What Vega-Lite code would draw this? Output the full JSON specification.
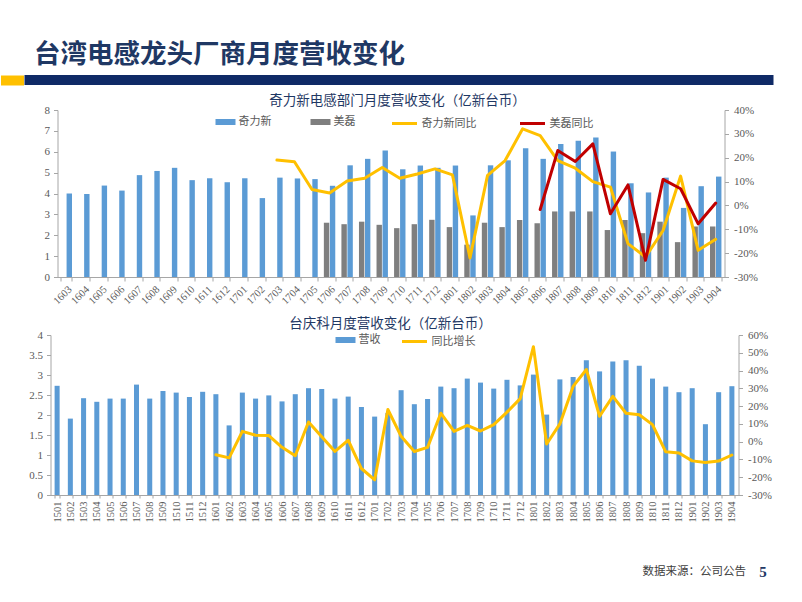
{
  "$schema": "https://vega.github.io/schema/vega-lite/v6.json",
  "background": "white",
  "padding": {"left": 11.5, "top": 41, "right": 0, "bottom": 0},
  "title": {"text": "台湾电感龙头厂商月度营收变化", "anchor": "start", "frame": "bounds", "dx": 22, "fontSize": 26.5, "font": "Noto Sans CJK SC", "fontWeight": "bold", "color": "#1F3864", "baseline": "bottom", "offset": -20},
  "spacing": 25,
  "bounds": "flush",
  "resolve": {"scale": {"fill": "independent", "stroke": "independent"}, "legend": {"fill": "independent", "stroke": "independent"}},
  "datasets": {
    "c1bars": [
      {"m": "1603", "s": "奇力新", "v": 4.00}, {"m": "1604", "s": "奇力新", "v": 3.98}, {"m": "1605", "s": "奇力新", "v": 4.38}, {"m": "1606", "s": "奇力新", "v": 4.14},
      {"m": "1607", "s": "奇力新", "v": 4.88}, {"m": "1608", "s": "奇力新", "v": 5.08}, {"m": "1609", "s": "奇力新", "v": 5.23}, {"m": "1610", "s": "奇力新", "v": 4.64},
      {"m": "1611", "s": "奇力新", "v": 4.73}, {"m": "1612", "s": "奇力新", "v": 4.54}, {"m": "1701", "s": "奇力新", "v": 4.73}, {"m": "1702", "s": "奇力新", "v": 3.78},
      {"m": "1703", "s": "奇力新", "v": 4.76}, {"m": "1704", "s": "奇力新", "v": 4.72}, {"m": "1705", "s": "奇力新", "v": 4.69}, {"m": "1706", "s": "奇力新", "v": 4.37},
      {"m": "1707", "s": "奇力新", "v": 5.35}, {"m": "1708", "s": "奇力新", "v": 5.66}, {"m": "1709", "s": "奇力新", "v": 6.06}, {"m": "1710", "s": "奇力新", "v": 5.16},
      {"m": "1711", "s": "奇力新", "v": 5.34}, {"m": "1712", "s": "奇力新", "v": 5.23}, {"m": "1801", "s": "奇力新", "v": 5.34}, {"m": "1802", "s": "奇力新", "v": 2.95},
      {"m": "1803", "s": "奇力新", "v": 5.35}, {"m": "1804", "s": "奇力新", "v": 5.59}, {"m": "1805", "s": "奇力新", "v": 6.17}, {"m": "1806", "s": "奇力新", "v": 5.66},
      {"m": "1807", "s": "奇力新", "v": 6.37}, {"m": "1808", "s": "奇力新", "v": 6.53}, {"m": "1809", "s": "奇力新", "v": 6.68}, {"m": "1810", "s": "奇力新", "v": 6.01},
      {"m": "1811", "s": "奇力新", "v": 4.49}, {"m": "1812", "s": "奇力新", "v": 4.05}, {"m": "1901", "s": "奇力新", "v": 4.76}, {"m": "1902", "s": "奇力新", "v": 3.31},
      {"m": "1903", "s": "奇力新", "v": 4.35}, {"m": "1904", "s": "奇力新", "v": 4.81},
      {"m": "1706", "s": "美磊", "v": 2.60}, {"m": "1707", "s": "美磊", "v": 2.53}, {"m": "1708", "s": "美磊", "v": 2.65}, {"m": "1709", "s": "美磊", "v": 2.50},
      {"m": "1710", "s": "美磊", "v": 2.34}, {"m": "1711", "s": "美磊", "v": 2.53}, {"m": "1712", "s": "美磊", "v": 2.74}, {"m": "1801", "s": "美磊", "v": 2.39},
      {"m": "1802", "s": "美磊", "v": 1.55}, {"m": "1803", "s": "美磊", "v": 2.60}, {"m": "1804", "s": "美磊", "v": 2.39}, {"m": "1805", "s": "美磊", "v": 2.73},
      {"m": "1806", "s": "美磊", "v": 2.57}, {"m": "1807", "s": "美磊", "v": 3.14}, {"m": "1808", "s": "美磊", "v": 3.14}, {"m": "1809", "s": "美磊", "v": 3.14},
      {"m": "1810", "s": "美磊", "v": 2.25}, {"m": "1811", "s": "美磊", "v": 2.73}, {"m": "1812", "s": "美磊", "v": 2.10}, {"m": "1901", "s": "美磊", "v": 2.65},
      {"m": "1902", "s": "美磊", "v": 1.67}, {"m": "1903", "s": "美磊", "v": 2.42}, {"m": "1904", "s": "美磊", "v": 2.42}
    ],
    "c1lines": [
      {"m": "1703", "s": "奇力新同比", "p": 0.19}, {"m": "1704", "s": "奇力新同比", "p": 0.183}, {"m": "1705", "s": "奇力新同比", "p": 0.067}, {"m": "1706", "s": "奇力新同比", "p": 0.052},
      {"m": "1707", "s": "奇力新同比", "p": 0.102}, {"m": "1708", "s": "奇力新同比", "p": 0.114}, {"m": "1709", "s": "奇力新同比", "p": 0.159}, {"m": "1710", "s": "奇力新同比", "p": 0.114},
      {"m": "1711", "s": "奇力新同比", "p": 0.132}, {"m": "1712", "s": "奇力新同比", "p": 0.153}, {"m": "1801", "s": "奇力新同比", "p": 0.128}, {"m": "1802", "s": "奇力新同比", "p": -0.22},
      {"m": "1803", "s": "奇力新同比", "p": 0.126}, {"m": "1804", "s": "奇力新同比", "p": 0.188}, {"m": "1805", "s": "奇力新同比", "p": 0.321}, {"m": "1806", "s": "奇力新同比", "p": 0.293},
      {"m": "1807", "s": "奇力新同比", "p": 0.188}, {"m": "1808", "s": "奇力新同比", "p": 0.156}, {"m": "1809", "s": "奇力新同比", "p": 0.10}, {"m": "1810", "s": "奇力新同比", "p": 0.077},
      {"m": "1811", "s": "奇力新同比", "p": -0.16}, {"m": "1812", "s": "奇力新同比", "p": -0.216}, {"m": "1901", "s": "奇力新同比", "p": -0.105}, {"m": "1902", "s": "奇力新同比", "p": 0.123},
      {"m": "1903", "s": "奇力新同比", "p": -0.188}, {"m": "1904", "s": "奇力新同比", "p": -0.142},
      {"m": "1806", "s": "美磊同比", "p": -0.017}, {"m": "1807", "s": "美磊同比", "p": 0.23}, {"m": "1808", "s": "美磊同比", "p": 0.184}, {"m": "1809", "s": "美磊同比", "p": 0.258},
      {"m": "1810", "s": "美磊同比", "p": -0.035}, {"m": "1811", "s": "美磊同比", "p": 0.086}, {"m": "1812", "s": "美磊同比", "p": -0.23}, {"m": "1901", "s": "美磊同比", "p": 0.109},
      {"m": "1902", "s": "美磊同比", "p": 0.07}, {"m": "1903", "s": "美磊同比", "p": -0.077}, {"m": "1904", "s": "美磊同比", "p": 0.01}
    ],
    "c2": [
      {"m": "1501", "rev": 2.73, "yoy": null}, {"m": "1502", "rev": 1.91, "yoy": null}, {"m": "1503", "rev": 2.42, "yoy": null}, {"m": "1504", "rev": 2.33, "yoy": null},
      {"m": "1505", "rev": 2.41, "yoy": null}, {"m": "1506", "rev": 2.41, "yoy": null}, {"m": "1507", "rev": 2.76, "yoy": null}, {"m": "1508", "rev": 2.41, "yoy": null},
      {"m": "1509", "rev": 2.60, "yoy": null}, {"m": "1510", "rev": 2.56, "yoy": null}, {"m": "1511", "rev": 2.45, "yoy": null}, {"m": "1512", "rev": 2.58, "yoy": null},
      {"m": "1601", "rev": 2.52, "yoy": -0.074}, {"m": "1602", "rev": 1.74, "yoy": -0.091}, {"m": "1603", "rev": 2.56, "yoy": 0.058}, {"m": "1604", "rev": 2.41, "yoy": 0.036},
      {"m": "1605", "rev": 2.49, "yoy": 0.034}, {"m": "1606", "rev": 2.34, "yoy": -0.032}, {"m": "1607", "rev": 2.52, "yoy": -0.079}, {"m": "1608", "rev": 2.67, "yoy": 0.111},
      {"m": "1609", "rev": 2.65, "yoy": 0.028}, {"m": "1610", "rev": 2.41, "yoy": -0.055}, {"m": "1611", "rev": 2.46, "yoy": 0.008}, {"m": "1612", "rev": 2.20, "yoy": -0.151},
      {"m": "1701", "rev": 1.96, "yoy": -0.215}, {"m": "1702", "rev": 2.05, "yoy": 0.181}, {"m": "1703", "rev": 2.62, "yoy": 0.03}, {"m": "1704", "rev": 2.27, "yoy": -0.055},
      {"m": "1705", "rev": 2.40, "yoy": -0.032}, {"m": "1706", "rev": 2.71, "yoy": 0.16}, {"m": "1707", "rev": 2.67, "yoy": 0.058}, {"m": "1708", "rev": 2.91, "yoy": 0.091},
      {"m": "1709", "rev": 2.81, "yoy": 0.06}, {"m": "1710", "rev": 2.66, "yoy": 0.096}, {"m": "1711", "rev": 2.88, "yoy": 0.166}, {"m": "1712", "rev": 2.74, "yoy": 0.242},
      {"m": "1801", "rev": 3.01, "yoy": 0.534}, {"m": "1802", "rev": 2.01, "yoy": -0.013}, {"m": "1803", "rev": 2.89, "yoy": 0.10}, {"m": "1804", "rev": 2.95, "yoy": 0.311},
      {"m": "1805", "rev": 3.37, "yoy": 0.406}, {"m": "1806", "rev": 3.09, "yoy": 0.143}, {"m": "1807", "rev": 3.34, "yoy": 0.255}, {"m": "1808", "rev": 3.37, "yoy": 0.16},
      {"m": "1809", "rev": 3.23, "yoy": 0.151}, {"m": "1810", "rev": 2.91, "yoy": 0.096}, {"m": "1811", "rev": 2.71, "yoy": -0.057}, {"m": "1812", "rev": 2.57, "yoy": -0.064},
      {"m": "1901", "rev": 2.67, "yoy": -0.108}, {"m": "1902", "rev": 1.77, "yoy": -0.117}, {"m": "1903", "rev": 2.57, "yoy": -0.109}, {"m": "1904", "rev": 2.72, "yoy": -0.075}
    ]
  },
  "vconcat": [
    {
      "width": 749,
      "height": 10,
      "view": {"fill": "#0F2A66", "stroke": null},
      "data": {"values": [{"k": 0}]},
      "mark": {"type": "point", "opacity": 0},
      "encoding": {
        "y": {"field": "k", "type": "quantitative", "axis": {"domainColor": "#FFC000", "domainWidth": 23, "offset": 12.5, "ticks": false, "labels": false, "title": null, "grid": false}}
      }
    },
    {
      "width": 700,
      "height": 167,
      "title": {"text": "奇力新电感部门月度营收变化（亿新台币）", "fontSize": 13.5, "color": "#1F3864", "font": "Noto Sans CJK SC", "fontWeight": "normal", "anchor": "middle", "dx": 23, "offset": -17, "baseline": "bottom"},
      "layer": [
        {
          "data": {"name": "c1bars"},
          "mark": {"type": "bar"},
          "encoding": {
            "x": {"field": "m", "type": "nominal", "scale": {"range": [33, 700], "paddingInner": 0.35, "paddingOuter": 0.175},
              "axis": {"title": null, "labelAngle": -45, "labelFontSize": 10.5, "labelFont": "Liberation Serif", "labelColor": "#595959", "tickBand": "extent", "tickSize": 4, "tickColor": "#A6A6A6", "domainColor": "#A6A6A6", "labelPadding": 3}},
            "xOffset": {"field": "s", "type": "nominal", "scale": {"domain": ["美磊", "奇力新"], "paddingInner": 0.1}},
            "y": {"field": "v", "type": "quantitative", "scale": {"domain": [0, 8], "nice": false},
              "axis": {"orient": "left", "offset": -33, "title": null, "values": [0, 1, 2, 3, 4, 5, 6, 7, 8], "format": "d", "grid": false, "tickSize": 4, "labelPadding": 4, "labelFontSize": 11, "labelFont": "Liberation Serif", "labelColor": "#595959", "tickColor": "#A6A6A6", "domainColor": "#A6A6A6"}},
            "fill": {"field": "s", "type": "nominal", "scale": {"domain": ["奇力新", "美磊"], "range": ["#5B9BD5", "#7F7F7F"]},
              "legend": {"orient": "none", "legendX": 191, "legendY": 2, "direction": "horizontal", "title": null, "symbolType": "M-1,-0.3H1V0.3H-1Z", "symbolSize": 400, "symbolStrokeWidth": 0, "labelFont": "Noto Sans CJK SC", "labelFontSize": 11, "labelColor": "#595959", "columnPadding": 39, "labelOffset": 3}}
          }
        },
        {
          "data": {"name": "c1lines"},
          "mark": {"type": "line", "strokeWidth": 3, "strokeJoin": "round", "strokeCap": "round"},
          "encoding": {
            "x": {"field": "m", "type": "nominal"},
            "y": {"field": "p", "type": "quantitative", "scale": {"domain": [-0.3, 0.4], "nice": false},
              "axis": {"orient": "right", "title": null, "values": [-0.3, -0.2, -0.1, 0, 0.1, 0.2, 0.3, 0.4], "labelExpr": "round(datum.value*100) + '%'", "grid": false, "tickSize": 4, "labelPadding": 5, "labelFontSize": 11, "labelFont": "Liberation Serif", "labelColor": "#595959", "tickColor": "#A6A6A6", "domainColor": "#A6A6A6"}},
            "stroke": {"field": "s", "type": "nominal", "scale": {"domain": ["奇力新同比", "美磊同比"], "range": ["#FFC000", "#C00000"]},
              "legend": {"orient": "none", "legendX": 366, "legendY": -0.5, "direction": "horizontal", "title": null, "symbolType": "stroke", "symbolSize": 625, "symbolStrokeWidth": 3, "labelFont": "Noto Sans CJK SC", "labelFontSize": 11, "labelColor": "#595959", "columnPadding": 37, "labelOffset": 3}}
          }
        }
      ],
      "resolve": {"scale": {"y": "independent"}}
    },
    {
      "width": 714,
      "height": 193,
      "title": {"text": "台庆科月度营收变化（亿新台币）", "fontSize": 13.5, "color": "#1F3864", "font": "Noto Sans CJK SC", "fontWeight": "normal", "anchor": "middle", "dx": 9, "offset": -42, "baseline": "bottom"},
      "layer": [
        {
          "data": {"name": "c2"},
          "mark": {"type": "bar"},
          "encoding": {
            "x": {"field": "m", "type": "nominal", "scale": {"range": [26, 714], "paddingInner": 0.62, "paddingOuter": 0.31},
              "axis": {"labelAngle": -90, "labelFontSize": 10.5, "labelFont": "Liberation Serif", "labelColor": "#595959", "tickBand": "extent", "tickSize": 3, "tickColor": "#A6A6A6", "domainColor": "#A6A6A6", "labelPadding": 3,
                "title": "数据来源：公司公告", "titleX": 721, "titleY": 76, "titleAlign": "right", "titleBaseline": "middle", "titleFont": "Noto Sans CJK SC", "titleFontSize": 11.5, "titleFontWeight": "normal", "titleColor": "#404040"}},
            "y": {"field": "rev", "type": "quantitative", "scale": {"domain": [0, 4], "nice": false, "range": [193, 33]},
              "axis": {"orient": "left", "offset": -26, "title": null, "values": [0, 0.5, 1, 1.5, 2, 2.5, 3, 3.5, 4], "format": "~g", "grid": false, "tickSize": 4, "labelPadding": 4, "labelFontSize": 11, "labelFont": "Liberation Serif", "labelColor": "#595959", "tickColor": "#A6A6A6", "domainColor": "#A6A6A6"}},
            "fill": {"datum": "营收", "type": "nominal", "scale": {"range": ["#5B9BD5"]},
              "legend": {"orient": "none", "legendX": 311, "legendY": 28, "direction": "horizontal", "title": null, "symbolType": "M-1,-0.3H1V0.3H-1Z", "symbolSize": 400, "symbolStrokeWidth": 0, "labelFont": "Noto Sans CJK SC", "labelFontSize": 11, "labelColor": "#595959", "labelOffset": 3}}
          }
        },
        {
          "data": {"name": "c2"},
          "mark": {"type": "line", "strokeWidth": 3, "strokeJoin": "round", "strokeCap": "round"},
          "encoding": {
            "x": {"field": "m", "type": "nominal"},
            "y": {"field": "yoy", "type": "quantitative", "scale": {"domain": [-0.3, 0.6], "nice": false, "range": [193, 33]},
              "axis": {"orient": "right", "values": [-0.3, -0.2, -0.1, 0, 0.1, 0.2, 0.3, 0.4, 0.5, 0.6], "labelExpr": "round(datum.value*100) + '%'", "grid": false, "tickSize": 4, "labelPadding": 5, "labelFontSize": 11, "labelFont": "Liberation Serif", "labelColor": "#595959", "tickColor": "#A6A6A6", "domainColor": "#A6A6A6",
                "title": "5", "titleAngle": 0, "titleX": 24, "titleY": 269, "titleAlign": "center", "titleBaseline": "middle", "titleFont": "Liberation Serif", "titleFontSize": 15, "titleFontWeight": "bold", "titleColor": "#1F3864"}},
            "stroke": {"datum": "同比增长", "type": "nominal", "scale": {"range": ["#FFC000"]},
              "legend": {"orient": "none", "legendX": 376, "legendY": 25.5, "direction": "horizontal", "title": null, "symbolType": "stroke", "symbolSize": 625, "symbolStrokeWidth": 3, "labelFont": "Noto Sans CJK SC", "labelFontSize": 11, "labelColor": "#595959", "labelOffset": 3}}
          }
        }
      ],
      "resolve": {"scale": {"y": "independent"}}
    }
  ],
  "config": {
    "view": {"stroke": null},
    "axis": {"grid": false}
  }
}
